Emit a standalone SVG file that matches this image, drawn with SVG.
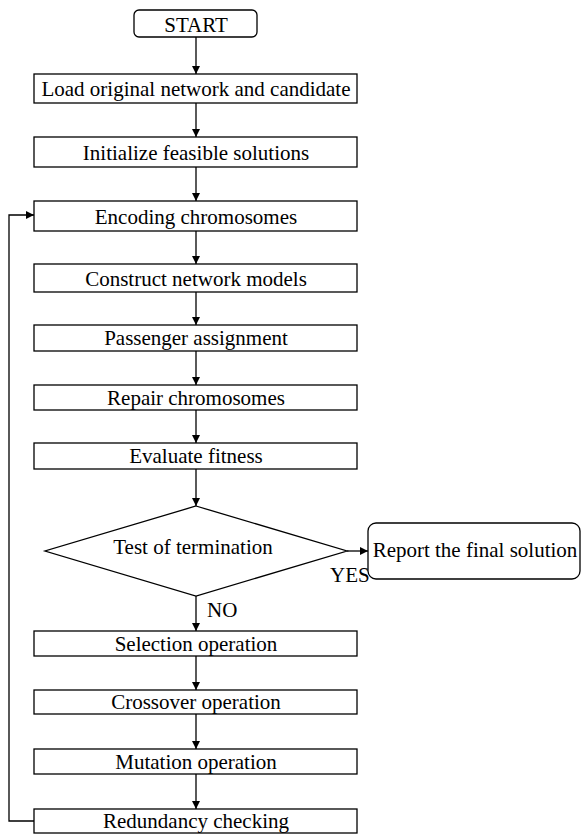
<svg xmlns="http://www.w3.org/2000/svg" width="581" height="835" viewBox="0 0 581 835">
<style>
.box{fill:#fff;stroke:#000;stroke-width:1.3}
.t{font-family:"Liberation Serif","Times New Roman",serif;font-size:21px;fill:#000;text-anchor:middle}
.tl{font-family:"Liberation Serif","Times New Roman",serif;font-size:21px;fill:#000;text-anchor:start}
.c{fill:none;stroke:#000;stroke-width:1.3}
</style>
<defs>
<marker id="ah" markerUnits="userSpaceOnUse" markerWidth="9" markerHeight="9" refX="8" refY="4" orient="auto">
<path d="M0,0 L8,4 L0,8 z" fill="#000"/>
</marker>
</defs>
<g id="connectors">
<line class="c" x1="196" y1="37" x2="196" y2="74" marker-end="url(#ah)"/>
<line class="c" x1="196" y1="103" x2="196" y2="137" marker-end="url(#ah)"/>
<line class="c" x1="196" y1="167" x2="196" y2="201" marker-end="url(#ah)"/>
<line class="c" x1="196" y1="231" x2="196" y2="264" marker-end="url(#ah)"/>
<line class="c" x1="196" y1="292" x2="196" y2="325" marker-end="url(#ah)"/>
<line class="c" x1="196" y1="351" x2="196" y2="385" marker-end="url(#ah)"/>
<line class="c" x1="196" y1="410" x2="196" y2="443" marker-end="url(#ah)"/>
<line class="c" x1="196" y1="469" x2="196" y2="506" marker-end="url(#ah)"/>
<line class="c" x1="347" y1="551" x2="368" y2="551" marker-end="url(#ah)"/>
<line class="c" x1="196" y1="596" x2="196" y2="631" marker-end="url(#ah)"/>
<line class="c" x1="196" y1="656" x2="196" y2="690" marker-end="url(#ah)"/>
<line class="c" x1="196" y1="714" x2="196" y2="749" marker-end="url(#ah)"/>
<line class="c" x1="196" y1="774" x2="196" y2="809" marker-end="url(#ah)"/>
<polyline class="c" points="34,821 9,821 9,215 34,215" marker-end="url(#ah)"/>
<text class="tl" x="330" y="582">YES</text>
<text class="tl" x="207" y="617">NO</text>
</g>
<g id="start"><rect class="box" x="134" y="10" width="123" height="27" rx="5"/><text class="t" x="196" y="32">START</text></g>
<g id="load"><rect class="box" x="34" y="74" width="323" height="29"/><text class="t" x="196" y="95.5">Load original network and candidate</text></g>
<g id="init"><rect class="box" x="34" y="137" width="323" height="30"/><text class="t" x="196" y="159.5">Initialize feasible solutions</text></g>
<g id="encoding"><rect class="box" x="34" y="201" width="323" height="30"/><text class="t" x="196" y="223.5">Encoding chromosomes</text></g>
<g id="construct"><rect class="box" x="34" y="264" width="323" height="28"/><text class="t" x="196" y="285.5">Construct network models</text></g>
<g id="passenger"><rect class="box" x="34" y="325" width="323" height="26"/><text class="t" x="196" y="345">Passenger assignment</text></g>
<g id="repair"><rect class="box" x="34" y="385" width="323" height="25"/><text class="t" x="196" y="404.5">Repair chromosomes</text></g>
<g id="evaluate"><rect class="box" x="34" y="443" width="323" height="26"/><text class="t" x="196" y="463">Evaluate fitness</text></g>
<g id="test"><polygon class="box" points="196,506 347,551 196,596 45,551"/><text class="t" x="193" y="554">Test of termination</text></g>
<g id="report"><rect class="box" x="368" y="523" width="212" height="56" rx="8"/><text class="t" x="475" y="557">Report the final solution</text></g>
<g id="selection"><rect class="box" x="34" y="631" width="323" height="25"/><text class="t" x="196" y="650.5">Selection operation</text></g>
<g id="crossover"><rect class="box" x="34" y="690" width="323" height="24"/><text class="t" x="196" y="709">Crossover operation</text></g>
<g id="mutation"><rect class="box" x="34" y="749" width="323" height="25"/><text class="t" x="196" y="768.5">Mutation operation</text></g>
<g id="redundancy"><rect class="box" x="34" y="809" width="323" height="24"/><text class="t" x="196" y="828">Redundancy checking</text></g>
</svg>
